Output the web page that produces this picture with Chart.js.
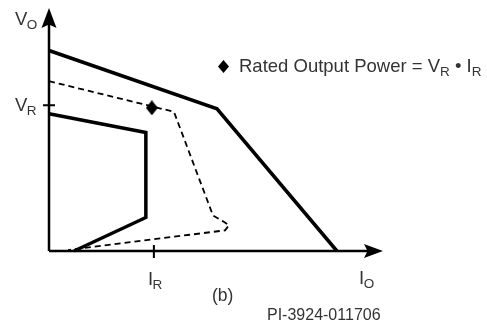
<!DOCTYPE html>
<html><head><meta charset="utf-8">
<script src="https://cdn.jsdelivr.net/npm/chart.js@4/dist/chart.umd.min.js"></script>
<style>html,body{margin:0;padding:0;background:#fff}#wrap{width:487px;height:322px;position:relative}</style>
</head><body><div id="wrap"><canvas id="c" width="487" height="322"></canvas></div>
<script>
// Values in relative units (0-100) for output current (x) and output voltage (y)
const outerX = [0, 50.3, 86.2];
const outerY = [82.5, 58.5, 0];
const dashedX = [0, 37.4, 49.1, 52.1, 53.9, 52.7, 5.7];
const dashedY = [69.9, 57.3, 14.6, 12.2, 10.6, 8.5, 0.4];
const innerX = [0, 29.0, 29.0, 7.5];
const innerY = [56.5, 48.8, 13.8, 0];
const ratedX = [30.8];
const ratedY = [58.9];
const VR = 60;      // V_R tick
const IR = 31.4;    // I_R tick
const legendText = ['Rated Output Power = V', 'R', ' \u2022 I', 'R'];

const pts = (xs, ys) => xs.map((x, i) => ({x, y: ys[i]}));

function diamond(w, h) {
  const c = document.createElement('canvas');
  c.width = w; c.height = h;
  const g = c.getContext('2d');
  g.fillStyle = '#000';
  g.beginPath();
  g.moveTo(w / 2, 0); g.lineTo(w, h / 2); g.lineTo(w / 2, h); g.lineTo(0, h / 2);
  g.closePath(); g.fill();
  return c;
}
const diamondImg = diamond(12, 15);

const TXT = '#333';
const FONT = '"Liberation Sans", Arial, Helvetica, sans-serif';

const decor = {
  id: 'decor',
  beforeDatasetsDraw(chart) {
    const ctx = chart.ctx, xs = chart.scales.x, ys = chart.scales.y;
    const x0 = xs.getPixelForValue(0), y0 = ys.getPixelForValue(0);
    const xEnd = xs.getPixelForValue(100), yTop = ys.getPixelForValue(100);
    ctx.save();
    ctx.strokeStyle = '#000'; ctx.fillStyle = '#000'; ctx.lineWidth = 2.5;
    ctx.beginPath();
    ctx.moveTo(x0, y0); ctx.lineTo(x0, yTop + 12);
    ctx.moveTo(x0, y0); ctx.lineTo(xEnd - 12, y0);
    ctx.stroke();
    // arrows
    ctx.beginPath();
    ctx.moveTo(x0, yTop); ctx.lineTo(x0 + 7.5, yTop + 20); ctx.lineTo(x0, yTop + 16.5); ctx.lineTo(x0 - 7.5, yTop + 20); ctx.closePath(); ctx.fill();
    ctx.beginPath();
    ctx.moveTo(xEnd, y0); ctx.lineTo(xEnd - 19, y0 - 7); ctx.lineTo(xEnd - 15.5, y0); ctx.lineTo(xEnd - 19, y0 + 7); ctx.closePath(); ctx.fill();
    // ticks
    ctx.lineWidth = 2;
    const vy = ys.getPixelForValue(VR), ix = xs.getPixelForValue(IR);
    ctx.beginPath();
    ctx.moveTo(x0 - 6, vy); ctx.lineTo(x0 + 6, vy);
    ctx.moveTo(ix, y0 - 6); ctx.lineTo(ix, y0 + 7);
    ctx.stroke();
    ctx.restore();
  },
  afterDatasetsDraw(chart) {
    const ctx = chart.ctx, xs = chart.scales.x, ys = chart.scales.y;
    const vy = ys.getPixelForValue(VR), ix = xs.getPixelForValue(IR);
    const xEnd = xs.getPixelForValue(100);
    ctx.save();
    ctx.fillStyle = TXT;
    ctx.textBaseline = 'alphabetic';
    const big = '18.5px ' + FONT, sub = '13.5px ' + FONT;
    function label(x, y, main, s) {
      ctx.font = big; ctx.textAlign = 'left';
      ctx.fillText(main, x, y);
      const w = ctx.measureText(main).width;
      ctx.font = sub; ctx.fillText(s, x + w - 0.5, y + 4);
    }
    label(15, 25, 'V', 'O');
    label(15, vy + 6, 'V', 'R');
    label(ix - 6, 285, 'I', 'R');
    label(xEnd - 24, 284, 'I', 'O');
    ctx.font = '17.5px ' + FONT; ctx.textAlign = 'left';
    ctx.fillText('(b)', 212, 301);
    ctx.font = '16px ' + FONT;
    ctx.fillText('PI-3924-011706', 267, 320);
    // legend
    ctx.drawImage(diamond(11, 13), 218, 60);
    let x = 239;
    legendText.forEach((t, i) => {
      const isSub = i % 2 === 1;
      ctx.font = isSub ? sub : big;
      ctx.fillText(t, x, isSub ? 76 : 72);
      x += ctx.measureText(t).width;
    });
    ctx.restore();
  }
};

new Chart(document.getElementById('c'), {
  type: 'scatter',
  data: {
    datasets: [
      { data: pts(outerX, outerY), showLine: true, borderColor: '#000', borderWidth: 3.5, pointRadius: 0, clip: false, borderJoinStyle: 'miter' },
      { data: pts(dashedX, dashedY), showLine: true, borderColor: '#000', borderWidth: 1.8, borderDash: [6, 4], pointRadius: 0, clip: false },
      { data: pts(innerX, innerY), showLine: true, borderColor: '#000', borderWidth: 3.5, pointRadius: 0, clip: false, borderJoinStyle: 'miter' },
      { data: pts(ratedX, ratedY), showLine: false, pointStyle: diamondImg, pointRadius: 7, clip: false }
    ]
  },
  options: {
    responsive: false, animation: false, devicePixelRatio: 1,
    layout: { padding: { left: 49, right: 104, top: 5, bottom: 71 } },
    plugins: { legend: { display: false }, tooltip: { enabled: false } },
    scales: {
      x: { type: 'linear', min: 0, max: 100, display: false },
      y: { type: 'linear', min: 0, max: 100, display: false }
    }
  },
  plugins: [decor]
});
</script></body></html>
